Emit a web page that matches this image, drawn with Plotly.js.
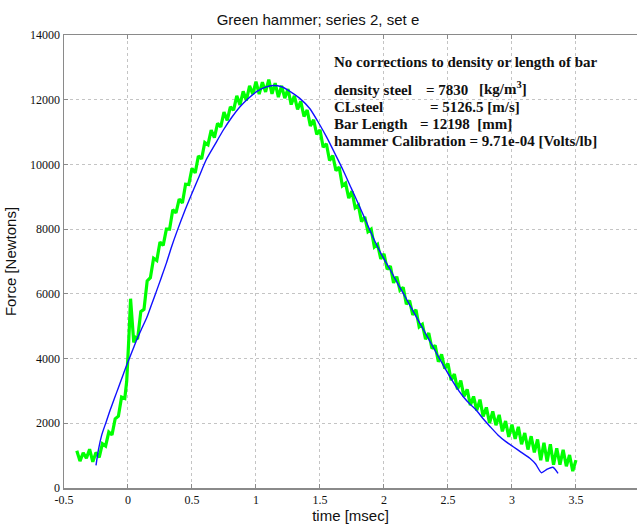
<!DOCTYPE html>
<html>
<head>
<meta charset="utf-8">
<script src="https://cdn.plot.ly/plotly-3.0.1.min.js"></script>
<style>
  html, body { margin: 0; padding: 0; background: #fff; }
  #chart { width: 637px; height: 524px; }
</style>
</head>
<body>
<div id="chart"></div>
<script>
// Measured force trace (green hammer, series 2, set e)
const measTime = [
  -0.400, -0.375, -0.350, -0.325, -0.300, -0.275, -0.250, -0.225, -0.200, -0.175,
  -0.150, -0.125, -0.100, -0.075, -0.050, -0.025, -0.010, 0.000, 0.010, 0.020,
  0.030, 0.045, 0.060, 0.075, 0.100, 0.125, 0.150, 0.175, 0.200, 0.225,
  0.250, 0.275, 0.300, 0.325, 0.350, 0.375, 0.400, 0.425, 0.450, 0.475,
  0.500, 0.525, 0.550, 0.575, 0.600, 0.625, 0.650, 0.675, 0.700, 0.725,
  0.750, 0.775, 0.800, 0.825, 0.850, 0.875, 0.900, 0.925, 0.950, 0.975,
  1.000, 1.025, 1.050, 1.075, 1.100, 1.125, 1.150, 1.175, 1.200, 1.225,
  1.250, 1.275, 1.300, 1.325, 1.350, 1.375, 1.400, 1.425, 1.450, 1.475,
  1.500, 1.525, 1.550, 1.575, 1.600, 1.625, 1.650, 1.675, 1.700, 1.725,
  1.750, 1.775, 1.800, 1.825, 1.850, 1.875, 1.900, 1.925, 1.950, 1.975,
  2.000, 2.025, 2.050, 2.075, 2.100, 2.125, 2.150, 2.175, 2.200, 2.225,
  2.250, 2.275, 2.300, 2.325, 2.350, 2.375, 2.400, 2.425, 2.450, 2.475,
  2.500, 2.525, 2.550, 2.575, 2.600, 2.625, 2.650, 2.675, 2.700, 2.725,
  2.750, 2.775, 2.800, 2.825, 2.850, 2.875, 2.900, 2.925, 2.950, 2.975,
  3.000, 3.025, 3.050, 3.075, 3.100, 3.125, 3.150, 3.175, 3.200, 3.225,
  3.250, 3.275, 3.300, 3.325, 3.350, 3.375, 3.400, 3.425, 3.450, 3.475,
  3.500
];
const measForce = [
  1150, 830, 1090, 920, 1200, 810, 1100, 950, 1370, 1300,
  1730, 1640, 2140, 2220, 2810, 2770, 3300, 3950, 4900, 5850,
  5300, 4500, 4650, 4600, 5450, 5520, 6400, 6500, 7100, 7030,
  7600, 7500, 8000, 8000, 8600, 8500, 8930, 8810, 9390, 9380,
  9880, 9740, 10260, 10170, 10680, 10610, 11060, 10830, 11270, 11160,
  11620, 11360, 11780, 11680, 12120, 11840, 12260, 11980, 12430, 12170,
  12560, 12170, 12540, 12240, 12620, 12180, 12510, 12080, 12430, 12050,
  12330, 11850, 12120, 11700, 11950, 11480, 11680, 11190, 11380, 10930,
  11070, 10530, 10640, 10120, 10270, 9810, 9920, 9340, 9420, 8960,
  9170, 8660, 8740, 8230, 8380, 7920, 8000, 7450, 7530, 7080,
  7240, 6760, 6860, 6340, 6530, 6110, 6200, 5680, 5790, 5350,
  5510, 4980, 5060, 4600, 4790, 4310, 4410, 3900, 4130, 3690,
  3850, 3330, 3520, 3050, 3320, 2830, 3050, 2560, 2830, 2400,
  2730, 2210, 2490, 2010, 2370, 1940, 2260, 1750, 2070, 1580,
  1960, 1520, 1890, 1350, 1700, 1190, 1600, 1100, 1500, 860,
  1400, 820, 1350, 720, 1230, 720, 1180, 670, 1020, 520,
  860
];

// Computed force from the bar model
const modelTime = [
  -0.250, -0.230, -0.205, -0.170, -0.140, -0.105, -0.075, -0.040, 0.000, 0.035,
  0.070, 0.110, 0.146, 0.185, 0.224, 0.260, 0.300, 0.340, 0.380, 0.440,
  0.500, 0.555, 0.610, 0.680, 0.745, 0.810, 0.875, 0.940, 1.005, 1.070,
  1.135, 1.200, 1.265, 1.340, 1.420, 1.480, 1.550, 1.615, 1.680, 1.745,
  1.810, 1.870, 1.930, 1.990, 2.050, 2.115, 2.180, 2.245, 2.310, 2.375,
  2.440, 2.500, 2.560, 2.620, 2.670, 2.720, 2.775, 2.830, 2.890, 2.950,
  3.010, 3.070, 3.140, 3.185, 3.230, 3.275, 3.320, 3.360
];
const modelForce = [
  700, 1200, 1640, 2050, 2400, 2780, 3100, 3480, 3900, 4250,
  4600, 4950, 5260, 5680, 6100, 6500, 6950, 7450, 7900, 8530,
  9107, 9620, 10137, 10620, 11064, 11450, 11784, 12040, 12248, 12380,
  12440, 12400, 12260, 12050, 11730, 11350, 10857, 10350, 9828, 9260,
  8694, 8150, 7620, 7150, 6737, 6260, 5810, 5340, 4883, 4420,
  3956, 3540, 3150, 2822, 2600, 2411, 2140, 1895, 1640, 1440,
  1276, 1110, 918, 740, 473, 580, 640, 454
];

const xTicks = [-0.5, 0, 0.5, 1, 1.5, 2, 2.5, 3, 3.5];
const xTickText = ['-0.5', '0', '0.5', '1', '1.5', '2', '2.5', '3', '3.5'];
const yTicks = [0, 2000, 4000, 6000, 8000, 10000, 12000, 14000];
const yTickText = ['0', '2000', '4000', '6000', '8000', '10000', '12000', '14000'];

const chartTitle = 'Green hammer; series 2, set e';
const xTitle = 'time [msec]';
const yTitle = 'Force [Newtons]';

// Parameter box lines: [left text, right text]
const noteHeader = 'No corrections to density or length of bar';
const noteRows = [
  ['density steel', '= 7830'],
  ['CLsteel', '= 5126.5 [m/s]'],
  ['Bar Length', '= 12198  [mm]'],
  ['hammer Calibration = 9.71e-04 [Volts/lb]', '']
];
const densityUnit = '[kg/m<sup>3</sup>]';

// plot box in pixels
const L = 64, R = 0, T = 35, B = 36, W = 637, H = 524;
const pw = W - L - R, ph = H - T - B;
const px = v => (v - L) / pw;
const py = v => (H - B - v) / ph;

const serif = 'Liberation Serif';
const sans = 'Liberation Sans';

const noteFont = { family: serif, size: 15, color: '#111' };
const annotations = [];
function note(text, x, y) {
  annotations.push({
    text: '<b>' + text + '</b>', xref: 'paper', yref: 'paper',
    x: px(x), y: py(y), xanchor: 'left', yanchor: 'middle',
    showarrow: false, font: noteFont
  });
}
note(noteHeader, 332, 62);
const rowY = [90, 107, 124, 141];
const rightX = [424, 428, 418, 0];
noteRows.forEach((r, i) => {
  note(r[0], 332, rowY[i]);
  if (r[1]) note(r[1], rightX[i], rowY[i]);
});
note(densityUnit, 477, 88);

const traces = [
  {
    x: measTime, y: measForce, type: 'scatter', mode: 'lines',
    line: { color: '#00ff00', width: 3.2 }, hoverinfo: 'skip'
  },
  {
    x: modelTime, y: modelForce, type: 'scatter', mode: 'lines',
    line: { color: '#1010ff', width: 1.4, shape: 'spline', smoothing: 0.6 }, hoverinfo: 'skip'
  }
];

const tickFont = { family: serif, size: 12, color: '#111' };
const layout = {
  width: W, height: H,
  margin: { l: L, r: R, t: T, b: B },
  paper_bgcolor: '#fff', plot_bgcolor: '#fff',
  showlegend: false,
  title: {
    text: chartTitle, x: px(350), xanchor: 'center', y: 1 - 20 / H, yanchor: 'middle',
    font: { family: sans, size: 15, color: '#111' }
  },
  xaxis: {
    range: [-0.5, 3.977], tickvals: xTicks, ticktext: xTickText,
    showgrid: true, gridcolor: '#c4c4c4', griddash: 'dot', gridwidth: 1,
    zeroline: false, showline: true, linecolor: '#8a8a8a', linewidth: 1.5,
    mirror: 'ticks', ticks: 'inside', ticklen: 4, tickcolor: '#8a8a8a',
    tickfont: tickFont,
    title: { text: xTitle, standoff: 3, font: { family: sans, size: 15, color: '#111' } }
  },
  yaxis: {
    range: [0, 14000], tickvals: yTicks, ticktext: yTickText,
    showgrid: true, gridcolor: '#c4c4c4', griddash: 'dot', gridwidth: 1,
    zeroline: false, showline: true, linecolor: '#8a8a8a', linewidth: 1.5,
    ticks: 'inside', ticklen: 4, tickcolor: '#8a8a8a',
    tickfont: tickFont,
    title: { text: yTitle, standoff: 10, font: { family: sans, size: 15, color: '#111' } }
  },
  annotations: annotations
};

Plotly.newPlot('chart', traces, layout, { displayModeBar: false, staticPlot: true });
</script>
</body>
</html>
